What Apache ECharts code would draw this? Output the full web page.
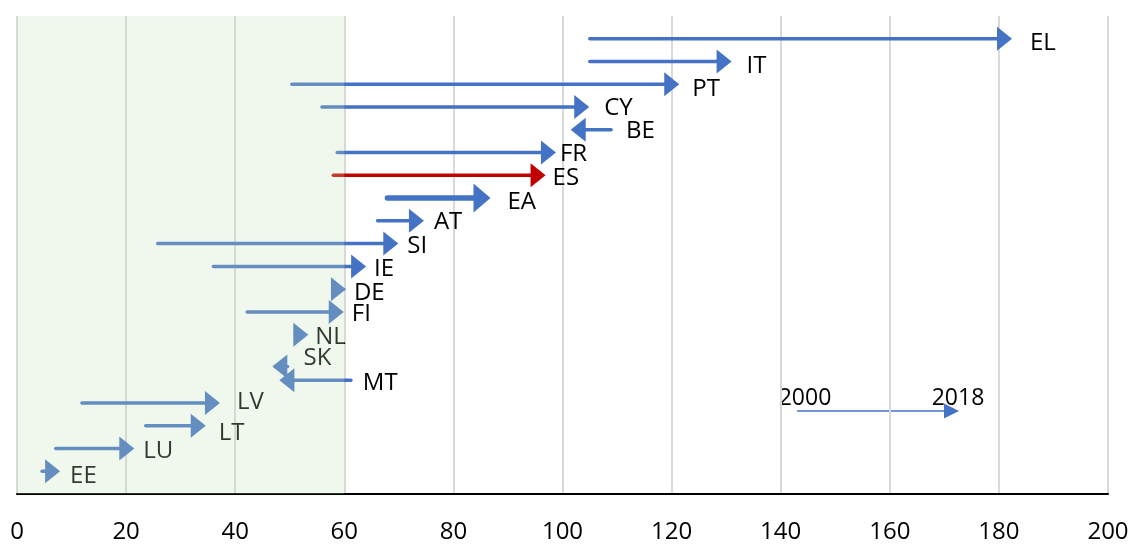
<!DOCTYPE html>
<html>
<head>
<meta charset="utf-8">
<script src="https://cdn.jsdelivr.net/npm/echarts@6/dist/echarts.min.js"></script>
<style>
  html, body { margin: 0; padding: 0; background: #ffffff; }
  #chart { width: 1133px; height: 544px; }
</style>
</head>
<body>
<div id="chart"></div>
<script>
// ---- data ----
const countries = ['EL','IT','PT','CY','BE','FR','ES','EA','AT','SI','IE','DE','FI','NL','SK','MT','LV','LT','LU','EE'];
const v2000 = [105.0, 105.0, 50.4, 55.9, 108.9, 58.7, 58.0, 67.9, 66.1, 25.8, 36.0, 58.0, 42.2, 51.0, 49.6, 61.2, 11.9, 23.6, 7.1, 4.6];
const v2018 = [182.4, 131.0, 121.4, 104.9, 101.5, 98.8, 96.9, 86.8, 74.6, 69.9, 64.0, 60.3, 59.9, 53.4, 46.8, 48.1, 37.2, 34.6, 21.5, 7.9];
const rowPos = [20, 19, 18, 17, 16, 15, 14, 13, 12, 11, 10, 9, 8, 7, 5.6, 5, 4, 3, 2, 1];
const shadedBand = [0, 60];
const xMin = 0, xMax = 200, xStep = 20;
const yMin = 0, yMax = 21;
const legendYears = ['2000', '2018'];

// ---- styles (kept separate from data) ----
const FONT = "'Open Sans', 'Noto Sans', sans-serif";
const BLUE = '#4472C4';
const RED = '#C00000';
const labelAdjust = {
  EL: [18, 4], IT: [15, 5], PT: [13, 5], CY: [15, 1], BE: [15, 1], FR: [4, 2],
  ES: [7, 3], EA: [17, 4], AT: [10, 1], SI: [9, 3], IE: [8, 3], DE: [8, 4],
  FI: [8, 2], NL: [7, 2], SK: [16, -8], MT: [12, 3], LV: [17, -1], LT: [13, 7],
  LU: [9, 3], EE: [10, 5]
};

const arrowData = countries.map((c, i) => [v2000[i], v2018[i], rowPos[i], c]);

function arrowShape(x0, x1, y, lw, headLen, halfW, color) {
  const dir = x1 >= x0 ? 1 : -1;
  const base = x1 - dir * headLen;
  const lineEnd = x1 - dir * headLen * 0.6;
  const els = [];
  if ((lineEnd - x0) * dir > 0) {
    els.push({
      type: 'line',
      shape: { x1: x0, y1: y, x2: lineEnd, y2: y },
      style: { stroke: color, lineWidth: lw, lineCap: 'round' }
    });
  }
  els.push({
    type: 'polygon',
    shape: { points: [[x1, y], [base, y - halfW], [base, y + halfW]] },
    style: { fill: color }
  });
  return els;
}

const chart = echarts.init(document.getElementById('chart'), null, { renderer: 'canvas' });

const option = {
  animation: false,
  backgroundColor: '#ffffff',
  grid: { left: 17, right: 25, top: 16, bottom: 50, containLabel: false },
  xAxis: {
    type: 'value', min: xMin, max: xMax, interval: xStep,
    axisLine: { show: true, onZero: false, lineStyle: { color: '#000000', width: 2 } },
    axisTick: { show: false },
    axisLabel: { color: '#000000', fontSize: 24, fontFamily: FONT, margin: 26 },
    splitLine: { show: true, lineStyle: { color: '#d9d9d9', width: 2 } }
  },
  yAxis: {
    type: 'value', min: yMin, max: yMax,
    show: true,
    axisLine: { show: false }, axisTick: { show: false }, axisLabel: { show: false },
    splitLine: { show: false }
  },
  series: [
    {
      type: 'custom',
      z: 2,
      data: arrowData,
      encode: { x: [0, 1], y: 2 },
      renderItem: function (params, api) {
        const a = api.value(0), b = api.value(1), r = api.value(2);
        const name = countries[params.dataIndex];
        const p0 = api.coord([a, r]);
        const p1 = api.coord([b, r]);
        const isEA = name === 'EA';
        const color = name === 'ES' ? RED : BLUE;
        const lw = isEA ? 5.5 : 3.5;
        const headLen = isEA ? 17 : 15;
        const halfW = isEA ? 14.5 : 12;
        const children = arrowShape(p0[0], p1[0], p0[1], lw, headLen, halfW, color);
        const adj = labelAdjust[name] || [10, 3];
        const xr = Math.max(p0[0], p1[0]);
        children.push({
          type: 'text',
          x: xr + adj[0], y: p0[1] + adj[1],
          style: {
            text: name, fill: '#000000', font: '24px ' + FONT,
            align: 'left', verticalAlign: 'middle'
          }
        });
        return { type: 'group', children: children };
      }
    },
    {
      type: 'custom',
      z: 3,
      data: [shadedBand],
      encode: { x: [0, 1] },
      silent: true,
      renderItem: function (params, api) {
        const pA = api.coord([api.value(0), yMax]);
        const pB = api.coord([api.value(1), yMin]);
        return {
          type: 'rect',
          shape: { x: pA[0], y: pA[1], width: pB[0] - pA[0], height: pB[1] - pA[1] },
          style: { fill: 'rgba(195,223,179,0.25)' }
        };
      }
    }
  ],
  graphic: [
    {
      type: 'group',
      children: [
        { type: 'line', shape: { x1: 797, y1: 411, x2: 948, y2: 411 },
          style: { stroke: BLUE, lineWidth: 1.6 } },
        { type: 'polygon', shape: { points: [[959, 411], [944, 403.5], [944, 418.5]] },
          style: { fill: BLUE } },
        { type: 'text', x: 805, y: 398,
          style: { text: legendYears[0], fill: '#000000', font: '23px ' + FONT, align: 'center', verticalAlign: 'middle' } },
        { type: 'text', x: 958, y: 398,
          style: { text: legendYears[1], fill: '#000000', font: '23px ' + FONT, align: 'center', verticalAlign: 'middle' } }
      ]
    }
  ]
};

chart.setOption(option);
</script>
</body>
</html>
